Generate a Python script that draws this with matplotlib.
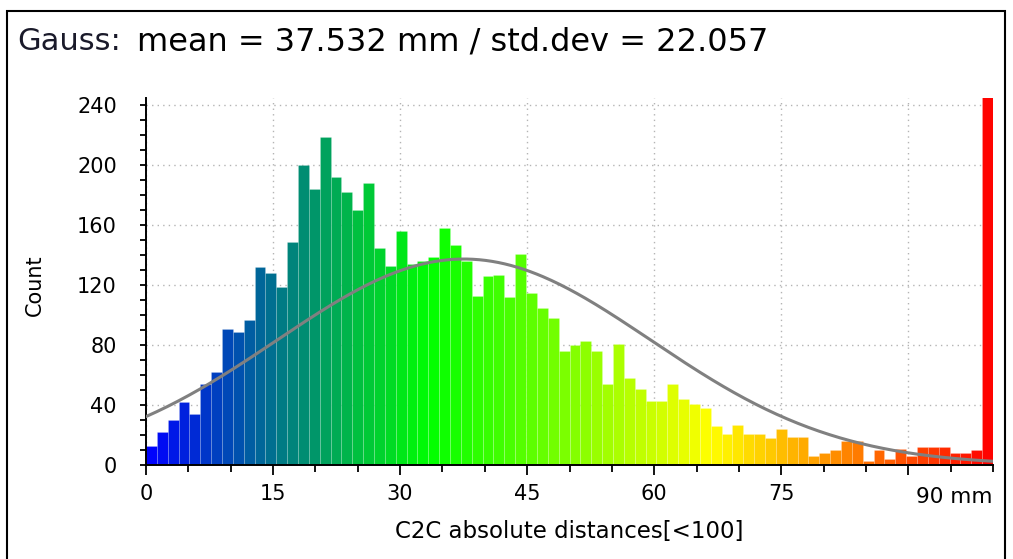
import numpy as np
import matplotlib
matplotlib.use("Agg")
import matplotlib.pyplot as plt
from matplotlib.colors import LinearSegmentedColormap
from matplotlib.patches import Rectangle
from matplotlib.ticker import MultipleLocator

# histogram classes (78 bins over 0..100 mm)
x_min = 0.0
x_max = 100.0
counts = [
    13, 22, 30, 42, 34, 54, 62, 91, 89, 97, 132, 128, 119, 149, 200, 184,
    219, 192, 182, 170, 188, 145, 133, 156,
    134, 136,
    139, 158, 147, 136, 113, 126, 127, 112, 141, 115, 105, 98, 76, 80,
    83, 76, 54, 81, 58, 51, 43, 43,
    54, 44, 41, 38, 26, 21, 27, 21, 21, 18, 24,
    19, 19, 6, 8, 10, 16, 16, 3, 10, 4, 11, 6, 12, 12, 12, 8, 8, 10, 300,
]

# gaussian fit shown in the title
gauss_mean = 37.532
gauss_std = 22.057
gauss_peak = 137.5

x_ticks = [0, 15, 30, 45, 60, 75, 90]
x_tick_labels = ["0", "15", "30", "45", "60", "75", ""]
y_ticks = [0, 40, 80, 120, 160, 200, 240]

title_left = "Gauss:"
title_right = "mean = 37.532 mm / std.dev = 22.057"
x_label = "C2C absolute distances[<100]"
y_label = "Count"
unit_label = "90 mm"

plt.rcParams["font.family"] = ["DejaVu Sans"]

W, H = 1013, 559
fig = plt.figure(figsize=(W / 100, H / 100), dpi=100)
ax = fig.add_axes([146 / W, 1 - 465 / H, (993 - 146) / W, (465 - 98) / H])

n = len(counts)
edges = np.linspace(x_min, x_max, n + 1)
width = edges[1] - edges[0]
centers = edges[:-1] + width / 2

bgyr = LinearSegmentedColormap.from_list(
    "bgyr", ["#0000ff", "#00ff00", "#ffff00", "#ff0000"])
colors = bgyr((centers - x_min) / (x_max - x_min))

ax.bar(edges[:-1], counts, width=width, align="edge", color=colors,
       edgecolor=(1, 1, 1, 0.18), linewidth=0.6, zorder=2)

xs = np.linspace(x_min, x_max, 400)
ys = gauss_peak * np.exp(-0.5 * ((xs - gauss_mean) / gauss_std) ** 2)
ax.plot(xs, ys, color="#808080", lw=2.2, zorder=3, solid_capstyle="round")

ax.set_xlim(x_min, x_max)
ax.set_ylim(0, 245)
ax.set_xticks(x_ticks)
ax.set_xticklabels(x_tick_labels)
ax.xaxis.set_minor_locator(MultipleLocator(5))
ax.set_yticks(y_ticks)
ax.yaxis.set_minor_locator(MultipleLocator(10))

ax.grid(True, which="major", color="#b4b4b4", linestyle=(0, (1, 3)),
        linewidth=1.0, zorder=1)
ax.set_axisbelow(True)

for side in ["top", "right"]:
    ax.spines[side].set_visible(False)
for side in ["left", "bottom"]:
    ax.spines[side].set_linewidth(1.4)
    ax.spines[side].set_color("#000000")

ax.tick_params(axis="x", which="major", direction="out", length=7, width=1.3,
               labelsize=15, pad=7, colors="#000000")
ax.tick_params(axis="x", which="minor", direction="out", length=5, width=1.3)
ax.tick_params(axis="y", which="both", direction="out", length=4, width=1.3)
ax.tick_params(axis="y", which="major", labelsize=15, pad=17)

ax.text(1.0, -0.06, unit_label, transform=ax.transAxes, ha="right", va="top",
        fontsize=15.5)

ax.set_xlabel(x_label, fontsize=16.5, labelpad=11)
fig.text(35 / W, 1 - 285 / H, y_label, rotation=90, ha="center", va="center",
         fontsize=15)

fig.text(17 / W, 1 - 50 / H, title_left, ha="left", va="baseline",
         fontsize=22, color="#1a1a2a")
fig.text(137 / W, 1 - 50 / H, title_right, ha="left", va="baseline",
         fontsize=23, color="#000000")

fig.patches.append(Rectangle((7 / W, -0.05), (1005 - 7) / W, 1.05 - 11 / H,
                             transform=fig.transFigure, fill=False,
                             edgecolor="#000000", linewidth=1.5))

fig.savefig("out.png", dpi=100)
